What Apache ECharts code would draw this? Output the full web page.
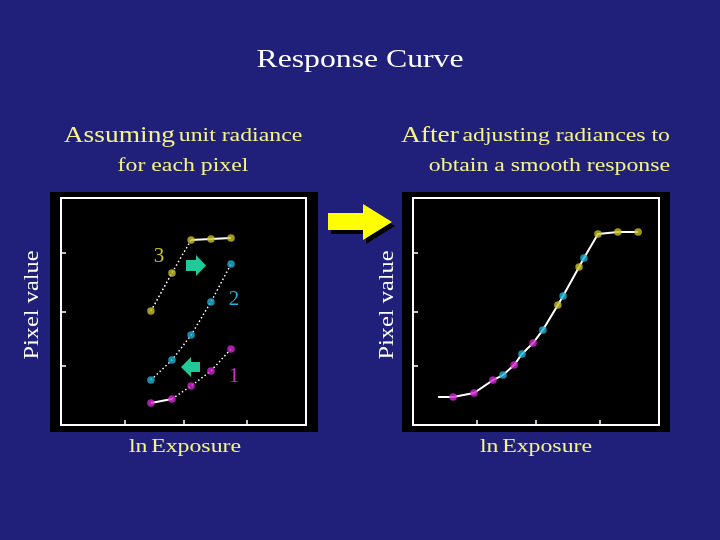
<!DOCTYPE html>
<html>
<head>
<meta charset="utf-8">
<script src="https://cdn.jsdelivr.net/npm/echarts@6/dist/echarts.min.js"></script>
<style>
html,body{margin:0;padding:0;background:#20207a;}
#chart{width:720px;height:540px;}
</style>
</head>
<body>
<div id="chart"></div>
<script>
// ---- data (ln exposure in axis units 0..100, pixel value in axis units 0..100) ----
const exposureLeft = [36.7, 45.3, 53.1, 61.2, 69.4];
const pixel1Left = [9.7, 11.5, 17.2, 23.8, 33.5];
const pixel2Left = [19.8, 28.6, 39.6, 54.2, 70.9];
const pixel3Left = [50.2, 67.0, 81.5, 81.9, 82.4];

const exposure1Right = [16.3, 24.8, 32.5, 41.1, 48.8];
const exposure2Right = [36.6, 44.3, 52.8, 61.0, 69.5];
const exposure3Right = [58.9, 67.5, 75.2, 83.3, 91.5];
const pixel1Right = [12.3, 14.1, 19.8, 26.4, 36.1];
const pixel2Right = [22.0, 31.3, 41.9, 56.8, 73.6];
const pixel3Right = [52.9, 69.6, 84.1, 85.0, 85.0];
const curveStart = [10.2, 12.3];

const tickValues = [26, 50, 76];
const seriesLabels = ['1', '2', '3'];

// ---- styles ----
const BG = '#20207a';
const TXT = '#f3f38a';
const C1 = '#d228d2', C2 = '#22b0d4', C3 = '#c8c028';
const GREEN = '#22c897';
const SERIF = '"Liberation Serif", "Times New Roman", serif';
const SX = 1.22;

const zip = (xs, ys) => xs.map((x, i) => [x, ys[i]]);
const L1 = zip(exposureLeft, pixel1Left);
const L2 = zip(exposureLeft, pixel2Left);
const L3 = zip(exposureLeft, pixel3Left);
const R1 = zip(exposure1Right, pixel1Right);
const R2 = zip(exposure2Right, pixel2Right);
const R3 = zip(exposure3Right, pixel3Right);
const curve = [curveStart].concat(R1, R2, R3).sort((a, b) => a[0] - b[0]);

function axis(gi, extra) {
  return Object.assign({
    type: 'value', gridIndex: gi, min: 0, max: 100,
    axisLine: { show: false },
    splitLine: { show: false },
    axisLabel: { show: false },
    axisTick: { show: true, inside: true, length: 5, customValues: tickValues,
      lineStyle: { color: '#fff', width: 1.5 } }
  }, extra || {});
}
const dotted = { color: '#fff', width: 1.5, type: [1.5, 2.5] };
const solid = { color: '#fff', width: 2 };
function line(gi, data, ls) {
  return { type: 'line', xAxisIndex: gi, yAxisIndex: gi, data: data, symbol: 'none',
    lineStyle: ls, silent: true, animation: false, z: 3 };
}
function dots(gi, data, color) {
  return { type: 'scatter', xAxisIndex: gi, yAxisIndex: gi, data: data, symbolSize: 7.5,
    itemStyle: { color: color }, animation: false, z: 5 };
}
function txt(x, y, text, size, color, align, extra) {
  return Object.assign({
    type: 'text', x: x, y: y, scaleX: SX, scaleY: 1, z: 20,
    style: { text: text, x: 0, y: 0, fill: color, font: size + 'px ' + SERIF,
      align: align || 'center', verticalAlign: 'middle' }
  }, extra || {});
}
function richTxt(x, y, text, align, rich) {
  return {
    type: 'text', x: x, y: y, scaleX: SX, z: 20,
    style: { text: text, x: 0, y: 0, fill: TXT, align: align, verticalAlign: 'middle',
      fontFamily: SERIF, rich: rich }
  };
}
const richHead = {
  a: { fontSize: 22.5, fontFamily: SERIF, fill: TXT, color: TXT },
  b: { fontSize: 19.5, fontFamily: SERIF, fill: TXT, color: TXT }
};
const richLn = {
  a: { fontSize: 19.5, fontFamily: SERIF, color: '#f6f6c0' },
  b: { fontSize: 19.5, fontFamily: SERIF, color: '#ffffff' }
};

const chart = echarts.init(document.getElementById('chart'), null, { renderer: 'canvas' });
chart.setOption({
  backgroundColor: BG,
  animation: false,
  grid: [
    { left: 61, top: 198, width: 245, height: 227, show: true, borderColor: '#fff', borderWidth: 2, backgroundColor: 'transparent' },
    { left: 413, top: 198, width: 246, height: 227, show: true, borderColor: '#fff', borderWidth: 2, backgroundColor: 'transparent' }
  ],
  xAxis: [axis(0), axis(1)],
  yAxis: [axis(0), axis(1)],
  series: [
    line(0, L3.slice(0, 3), dotted),
    line(0, L3.slice(2), solid),
    line(0, L2, dotted),
    line(0, L1.slice(0, 2), solid),
    line(0, L1.slice(1), dotted),
    dots(0, L3, C3), dots(0, L2, C2), dots(0, L1, C1),
    line(1, curve, solid),
    dots(1, R1, C1), dots(1, R2, C2), dots(1, R3, C3)
  ],
  graphic: { elements: [
    { type: 'rect', shape: { x: 50, y: 192, width: 268, height: 240 }, style: { fill: '#000' }, z: -10 },
    { type: 'rect', shape: { x: 402, y: 192, width: 268, height: 240 }, style: { fill: '#000' }, z: -10 },
    // big yellow arrow with shadow
    { type: 'polygon', shape: { points: [[331,217],[366,217],[366,208],[395,226],[366,244],[366,234],[331,234]] }, style: { fill: '#000' }, z: 1 },
    { type: 'polygon', shape: { points: [[328,213],[363,213],[363,204],[392,222],[363,240],[363,230],[328,230]] }, style: { fill: '#ffff00' }, z: 2 },
    // green arrows
    { type: 'polygon', shape: { points: [[186,260],[196,260],[196,255],[206,265.5],[196,276],[196,271],[186,271]] }, style: { fill: GREEN }, z: 10 },
    { type: 'polygon', shape: { points: [[200,362],[191,362],[191,357],[181,367],[191,377],[191,372],[200,372]] }, style: { fill: GREEN }, z: 10 },
    // curve labels
    txt(159, 256, seriesLabels[2], 21, C3, 'center', { scaleX: 1 }),
    txt(234, 299, seriesLabels[1], 21, C2, 'center', { scaleX: 1 }),
    txt(234, 376, seriesLabels[0], 21, C1, 'center', { scaleX: 1 }),
    // texts
    txt(360, 60, 'Response Curve', 26, '#ffffff'),
    richTxt(183, 136, '{a|Assuming} {b|unit radiance}', 'center', richHead),
    txt(183, 166, 'for each pixel', 19.5, TXT),
    richTxt(670, 136, '{a|After} {b|adjusting radiances to}', 'right', richHead),
    txt(670, 166, 'obtain a smooth response', 19.5, TXT, 'right'),
    txt(33, 305, 'Pixel value', 20, '#ffffff', 'center', { rotation: Math.PI / 2 }),
    txt(388, 305, 'Pixel value', 20, '#ffffff', 'center', { rotation: Math.PI / 2 }),
    richTxt(185, 447, '{a|ln} {b|Exposure}', 'center', richLn),
    richTxt(536, 447, '{a|ln} {b|Exposure}', 'center', richLn)
  ] }
});
</script>
</body>
</html>
